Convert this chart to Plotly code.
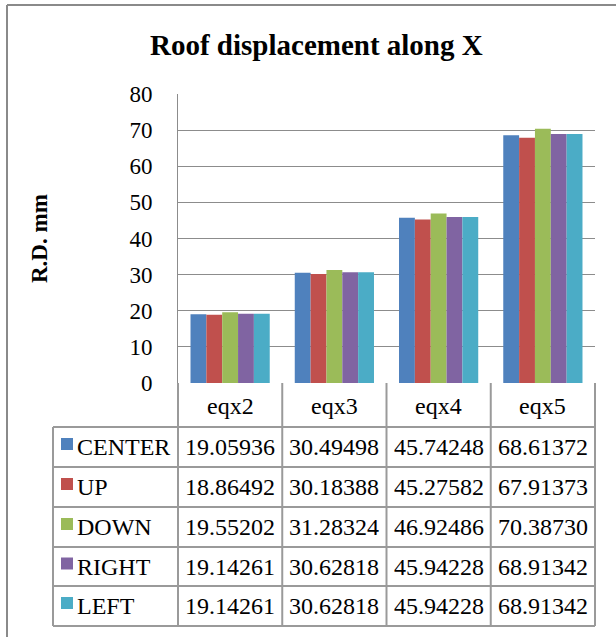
import plotly.graph_objects as go

W, H = 616, 637
categories = ["eqx2", "eqx3", "eqx4", "eqx5"]
series_names = ["CENTER", "UP", "DOWN", "RIGHT", "LEFT"]
center = [19.05936, 30.49498, 45.74248, 68.61372]
up = [18.86492, 30.18388, 45.27582, 67.91373]
down = [19.55202, 31.28324, 46.92486, 70.38730]
right = [19.14261, 30.62818, 45.94228, 68.91342]
left = [19.14261, 30.62818, 45.94228, 68.91342]
series_values = [center, up, down, right, left]
colors = ["#4F81BD", "#C0504D", "#9BBB59", "#8064A2", "#4BACC6"]
y_ticks = [0, 10, 20, 30, 40, 50, 60, 70, 80]

FONT = "Liberation Serif, Times New Roman, serif"
GRID = "#8C8C8C"

def X(px):
    return px / W

def Y(py):
    return 1 - py / H

# layout geometry (pixels)
plot_l, plot_r = 178, 595
plot_t, plot_b = 94, 383
table_l = 53
row_edges = [383, 427, 467, 507, 547, 586, 626]
col_edges = [plot_l + i * (plot_r - plot_l) / len(categories) for i in range(len(categories) + 1)]

fig = go.Figure()
for name, vals, col in zip(series_names, series_values, colors):
    fig.add_trace(go.Bar(x=categories, y=vals, name=name, marker=dict(color=col, line=dict(width=0))))

shapes = []
annotations = []

# table grid lines
lc = dict(color="#9A9A9A", width=2)
for yy in row_edges[1:]:
    shapes.append(dict(type="line", xref="paper", yref="paper", x0=X(table_l), x1=X(plot_r), y0=Y(yy), y1=Y(yy), line=lc))
for xx in col_edges:
    shapes.append(dict(type="line", xref="paper", yref="paper", x0=X(xx), x1=X(xx), y0=Y(row_edges[0]), y1=Y(row_edges[-1]), line=lc))
shapes.append(dict(type="line", xref="paper", yref="paper", x0=X(table_l), x1=X(table_l), y0=Y(row_edges[1]), y1=Y(row_edges[-1]), line=lc))

# outer chart border
bc = dict(color="#8A8A8A", width=2)
shapes.append(dict(type="line", xref="paper", yref="paper", x0=X(7), x1=X(W), y0=Y(5), y1=Y(5), line=bc))
shapes.append(dict(type="line", xref="paper", yref="paper", x0=X(7), x1=X(7), y0=Y(5), y1=Y(H), line=bc))

TS = 24
# header labels
for i, c in enumerate(categories):
    annotations.append(dict(text=c, xref="paper", yref="paper", x=X((col_edges[i] + col_edges[i + 1]) / 2),
                            y=Y((row_edges[0] + row_edges[1]) / 2 + 1), showarrow=False,
                            font=dict(family=FONT, size=TS, color="black"), xanchor="center", yanchor="middle"))

# rows
for r, (name, vals, col) in enumerate(zip(series_names, series_values, colors)):
    yc = (row_edges[r + 1] + row_edges[r + 2]) / 2
    shapes.append(dict(type="rect", xref="paper", yref="paper", x0=X(61), x1=X(73), y0=Y(yc - 9), y1=Y(yc + 3),
                       fillcolor=col, line=dict(width=0)))
    annotations.append(dict(text=name, xref="paper", yref="paper", x=X(75), y=Y(yc), showarrow=False,
                            font=dict(family=FONT, size=TS, color="black"), xanchor="left", yanchor="middle"))
    for i, v in enumerate(vals):
        annotations.append(dict(text=f"{v:.5f}", xref="paper", yref="paper", x=X((col_edges[i] + col_edges[i + 1]) / 2),
                                y=Y(yc), showarrow=False,
                                font=dict(family=FONT, size=TS, color="black"), xanchor="center", yanchor="middle"))

# title and axis title
annotations.append(dict(text="<b>Roof displacement along X</b>", xref="paper", yref="paper", x=X(316), y=Y(45),
                        showarrow=False, font=dict(family=FONT, size=29, color="black"), xanchor="center", yanchor="middle"))
annotations.append(dict(text="<b>R.D. mm</b>", xref="paper", yref="paper", x=X(39), y=Y(238), textangle=-90,
                        showarrow=False, font=dict(family=FONT, size=23, color="black"), xanchor="center", yanchor="middle"))

fig.update_layout(
    template="none",
    width=W, height=H, margin=dict(l=0, r=0, t=0, b=0, pad=0, autoexpand=False),
    paper_bgcolor="white", plot_bgcolor="white",
    barmode="group", bargap=0.24, bargroupgap=0,
    showlegend=False,
    xaxis=dict(domain=[X(plot_l), X(plot_r)], showticklabels=False, ticks="", showgrid=False,
               showline=False, zeroline=False, fixedrange=True, automargin=False),
    yaxis=dict(domain=[Y(plot_b), Y(plot_t)], range=[0, 80], tickvals=y_ticks, ticktext=[str(t) for t in y_ticks],
               showgrid=True, gridcolor=GRID, gridwidth=1, zeroline=False, automargin=False,
               showline=True, linecolor=GRID, linewidth=1, ticks="", ticklabelstandoff=20,
               tickfont=dict(family=FONT, size=23, color="black"), fixedrange=True),
    shapes=shapes, annotations=annotations,
)

post = ("document.body.style.margin='0';document.body.style.overflow='hidden';"
        "var gd=document.getElementById('{plot_id}');gd.style.position='fixed';"
        "gd.style.top='0px';gd.style.left='0px';")
fig.write_html("out.html", config={"displayModeBar": False}, post_script=post)
